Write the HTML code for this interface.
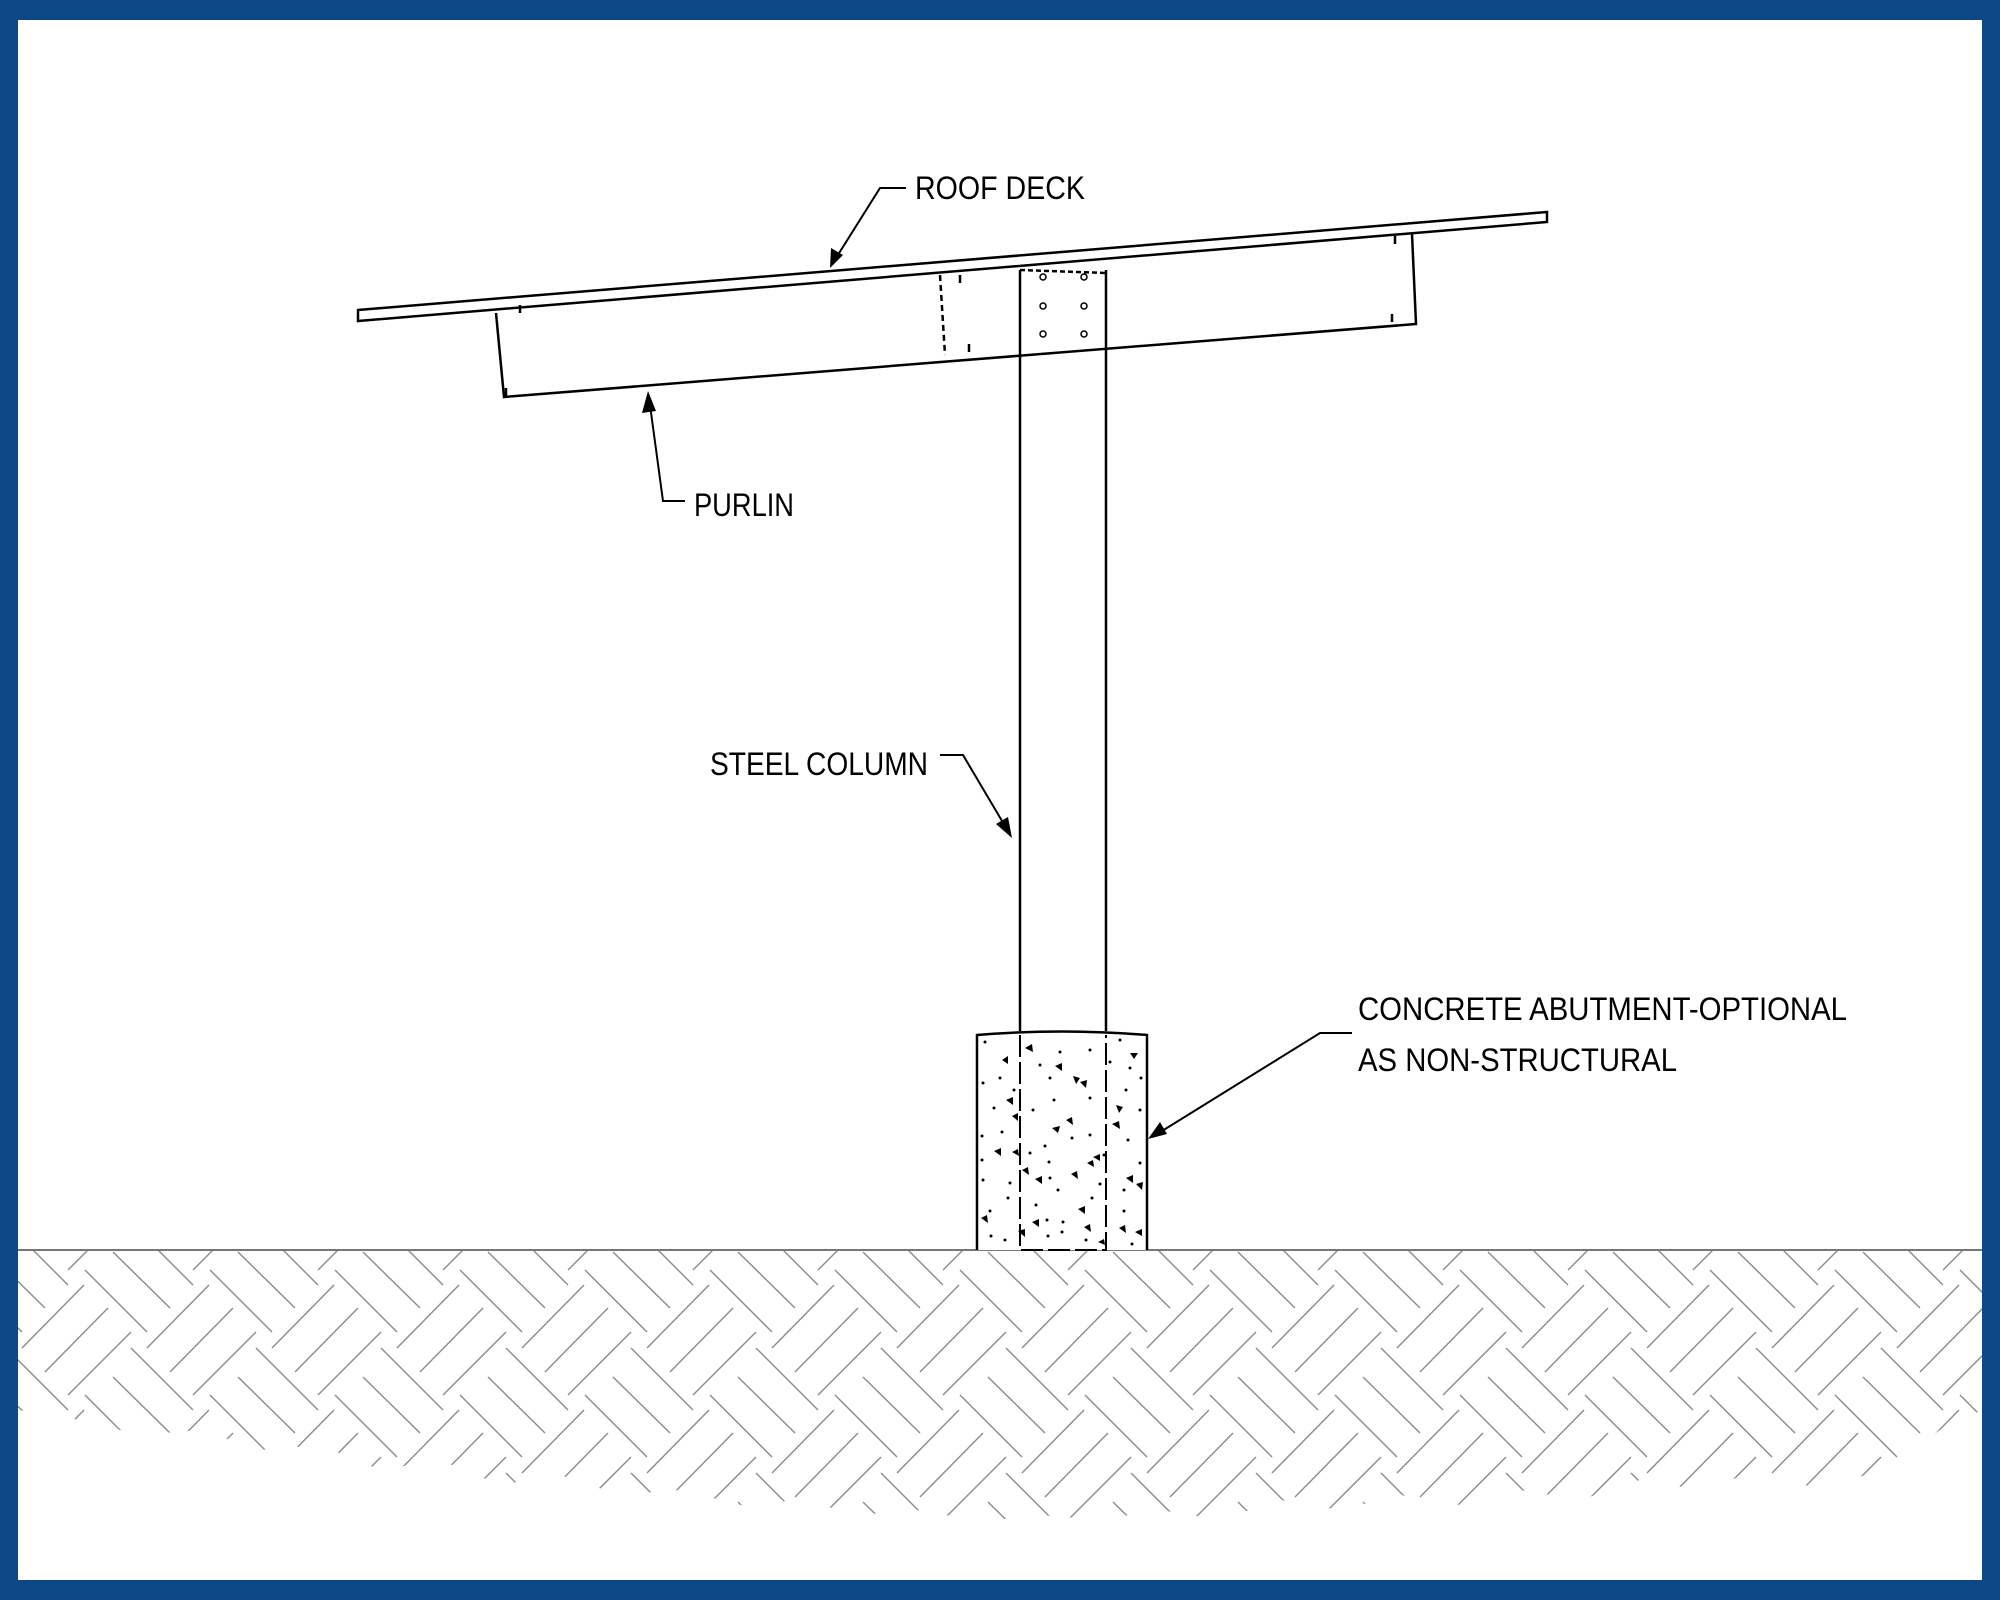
<!DOCTYPE html>
<html><head><meta charset="utf-8"><style>
html,body{margin:0;padding:0;background:#fff}
svg{display:block}
text{font-family:"Liberation Sans",sans-serif;font-size:32px;fill:#000}
</style></head><body>
<svg width="2000" height="1600" viewBox="0 0 2000 1600" xmlns="http://www.w3.org/2000/svg">
<defs>
<g id="hs" stroke="#8a8a8a" stroke-width="1.4" fill="none">
<path d="M13 7 L70 63 M-15 25 L47 87 M31 103 L93 165 M47 103 L109 40 M70 127 L133 63 M93 150 L156 87"/>
</g>
<pattern id="hb" x="100" y="1245" width="125" height="125" patternUnits="userSpaceOnUse">
<use href="#hs"/>
<use href="#hs" x="-125"/><use href="#hs" x="125"/>
<use href="#hs" y="-125"/><use href="#hs" y="125"/>
<use href="#hs" x="-125" y="-125"/><use href="#hs" x="125" y="-125"/>
<use href="#hs" x="-125" y="125"/><use href="#hs" x="125" y="125"/>
</pattern>
<clipPath id="gc"><path d="M18 1251 H1982 V1410 L1940 1430 L1880 1470 L1820 1490 L1760 1470 L1700 1490 L1640 1480 L1580 1500 L1520 1490 L1460 1505 L1400 1495 L1340 1510 L1280 1500 L1220 1520 L1160 1510 L1100 1520 L1040 1515 L980 1522 L920 1510 L860 1515 L800 1500 L740 1505 L680 1490 L620 1495 L560 1475 L500 1485 L440 1460 L380 1470 L320 1445 L260 1450 L200 1430 L140 1435 L80 1420 L18 1410 Z"/></clipPath>
</defs>
<rect x="0" y="0" width="2000" height="1600" fill="#0f4886"/>
<rect x="18" y="20" width="1964" height="1560" fill="#fff"/>
<!-- ground -->
<rect x="18" y="1251" width="1964" height="300" fill="url(#hb)" clip-path="url(#gc)"/>
<line x1="18" y1="1250" x2="1982" y2="1250" stroke="#777" stroke-width="2"/>

<g stroke="#000" fill="none" stroke-width="2.5">
<!-- deck -->
<path d="M358 310 L1547 212 L1547 222 L358 321 Z" fill="#fff"/>
<!-- purlin -->
<path d="M496 313 L504 397 L1416 324 L1412 234"/>
<path d="M940 275 L945 355" stroke-dasharray="6 4"/>
<path d="M506 388 v8 M969 352 v-8 M520 305 v8 M1395 236 v8 M1392 322 v-8 M960 283 v-8"/>
<!-- column -->
<path d="M1020 270 L1020 1031 M1106 270 L1106 1031"/>
<path d="M1020 270 L1106 273" stroke-dasharray="5 3"/>
<!-- concrete -->
<path d="M977 1250 L977 1035 Q1062 1028 1147 1035 L1147 1250" fill="#fff"/>
<path d="M1020 1035 L1020 1250 L1106 1250 L1106 1035" stroke-dasharray="22 5" stroke-width="2"/>
</g>
<g fill="none" stroke="#000" stroke-width="1.5">
<circle cx="1043" cy="277" r="3"/><circle cx="1084" cy="277" r="3"/>
<circle cx="1043" cy="306" r="3"/><circle cx="1084" cy="306" r="3"/>
<circle cx="1043" cy="334" r="3"/><circle cx="1084" cy="334" r="3"/>
</g>
<!-- concrete aggregates -->
<g fill="#000">
<path d="M1025 1048 l7 -4 l1 8z M1002 1060 l6 -4 l0 8z M1055 1066 l7 -3 l0 8z M1073 1076 l7 2 l-4 6z M1080 1082 l7 -2 l-1 8z M1130 1053 l8 0 l-4 6z M1006 1100 l7 -3 l0 8z M1012 1116 l6 -3 l0 8z M1066 1120 l6 -3 l1 8z M1052 1128 l8 -2 l-2 7z M1112 1124 l7 -3 l1 8z M1116 1105 l7 2 l-4 6z M994 1151 l7 -3 l0 8z M1012 1152 l6 -3 l1 7z M1093 1157 l7 -3 l0 7z M1087 1163 l6 -3 l1 7z M1022 1170 l6 -3 l1 8z M1035 1179 l7 -3 l0 8z M1071 1174 l6 -3 l1 8z M1126 1178 l7 -3 l0 8z M1136 1184 l7 -2 l-1 8z M1078 1209 l7 -3 l0 8z M1032 1222 l7 -3 l0 8z M1084 1227 l6 -3 l1 8z M981 1218 l6 -3 l1 8z M1119 1228 l6 -3 l1 8z M1135 1232 l7 -3 l0 7z M1018 1231 l7 -2 l0 8z M1098 1242 l6 -3 l1 6z"/>
<circle cx="985" cy="1042" r="1.5"/><circle cx="1040" cy="1065" r="1.5"/><circle cx="1060" cy="1052" r="1.5"/><circle cx="1090" cy="1050" r="1.5"/><circle cx="1120" cy="1040" r="1.5"/><circle cx="1130" cy="1068" r="1.5"/><circle cx="1141" cy="1078" r="1.5"/><circle cx="983" cy="1083" r="1.5"/><circle cx="1000" cy="1078" r="1.5"/><circle cx="1050" cy="1078" r="1.5"/><circle cx="1090" cy="1098" r="1.5"/><circle cx="1126" cy="1090" r="1.5"/><circle cx="1054" cy="1100" r="1.5"/><circle cx="994" cy="1108" r="1.5"/><circle cx="1033" cy="1110" r="1.5"/><circle cx="982" cy="1136" r="1.5"/><circle cx="1002" cy="1132" r="1.5"/><circle cx="1045" cy="1146" r="1.5"/><circle cx="1072" cy="1138" r="1.5"/><circle cx="1090" cy="1135" r="1.5"/><circle cx="1128" cy="1140" r="1.5"/><circle cx="982" cy="1160" r="1.5"/><circle cx="1030" cy="1153" r="1.5"/><circle cx="1049" cy="1162" r="1.5"/><circle cx="1104" cy="1155" r="1.5"/><circle cx="1140" cy="1163" r="1.5"/><circle cx="983" cy="1180" r="1.5"/><circle cx="1010" cy="1183" r="1.5"/><circle cx="1050" cy="1178" r="1.5"/><circle cx="1058" cy="1190" r="1.5"/><circle cx="1100" cy="1184" r="1.5"/><circle cx="1124" cy="1190" r="1.5"/><circle cx="1008" cy="1198" r="1.5"/><circle cx="1036" cy="1205" r="1.5"/><circle cx="1092" cy="1198" r="1.5"/><circle cx="990" cy="1211" r="1.5"/><circle cx="1047" cy="1220" r="1.5"/><circle cx="1063" cy="1222" r="1.5"/><circle cx="1124" cy="1211" r="1.5"/><circle cx="991" cy="1236" r="1.5"/><circle cx="1005" cy="1240" r="1.5"/><circle cx="1048" cy="1236" r="1.5"/><circle cx="1062" cy="1232" r="1.5"/><circle cx="1086" cy="1240" r="1.5"/><circle cx="1132" cy="1244" r="1.5"/><circle cx="1014" cy="1090" r="1.5"/><circle cx="1110" cy="1062" r="1.5"/><circle cx="1140" cy="1110" r="1.5"/>
</g>

<!-- leaders -->
<g stroke="#000" stroke-width="2" fill="none">
<path d="M906 188 L880 188 L836 258"/>
<path d="M685 501 L663 501 L650 405"/>
<path d="M940 755 L963 755 L1005 826"/>
<path d="M1352 1033 L1320 1033 L1162 1131"/>
</g>
<g fill="#000">
<path d="M830 268 L831 248 L843 255 Z"/>
<path d="M648 391 L642 413 L656 411 Z"/>
<path d="M1012 838 L996 824 L1008 817 Z"/>
<path d="M1148 1139 L1160 1122 L1167 1134 Z"/>
</g>

<text x="915" y="199" textLength="170" lengthAdjust="spacingAndGlyphs">ROOF DECK</text>
<text x="694" y="516" textLength="100" lengthAdjust="spacingAndGlyphs">PURLIN</text>
<text x="710" y="775" textLength="218" lengthAdjust="spacingAndGlyphs">STEEL COLUMN</text>
<text x="1358" y="1020" textLength="489" lengthAdjust="spacingAndGlyphs">CONCRETE ABUTMENT-OPTIONAL</text>
<text x="1358" y="1071" textLength="319" lengthAdjust="spacingAndGlyphs">AS NON-STRUCTURAL</text>
</svg>
</body></html>
